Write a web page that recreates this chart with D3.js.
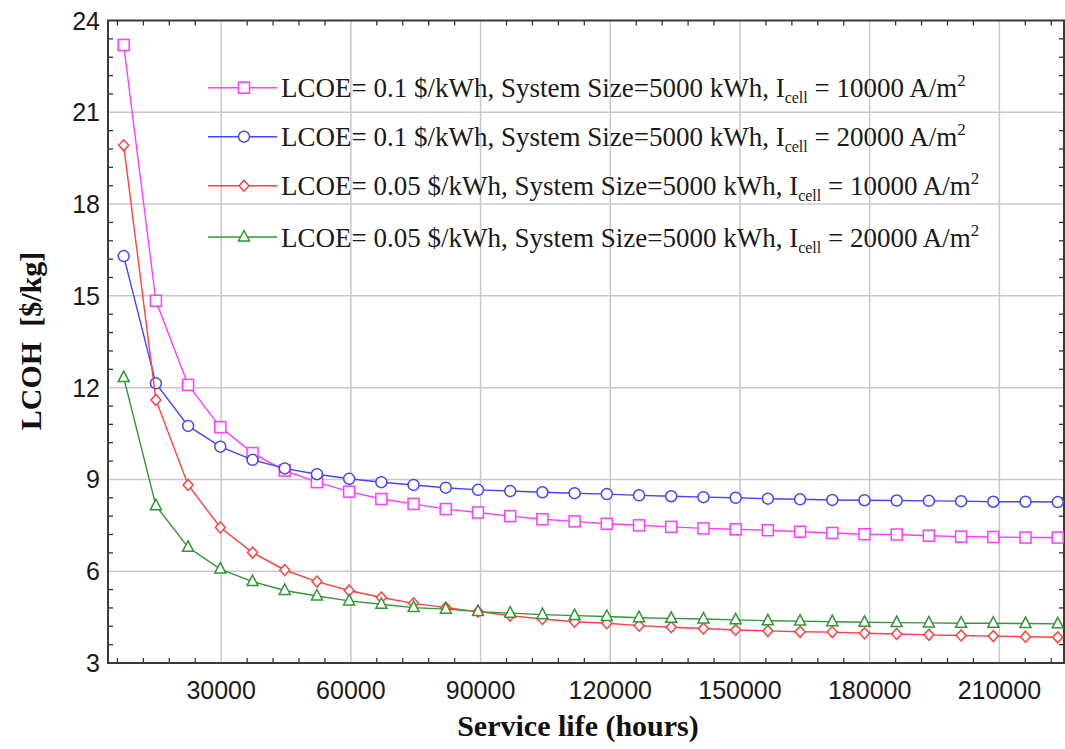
<!DOCTYPE html>
<html><head><meta charset="utf-8">
<script src="https://cdn.jsdelivr.net/npm/d3@7"></script>
<style>body{margin:0;background:#fff}svg{display:block}</style>
</head><body>
<svg id="chart" width="1065" height="749"></svg>
<script>
const serviceLife = [7450,14900,22350,29800,37250,44700,52150,59600,67050,74500,81950,89400,96850,104300,111750,119200,126650,134100,141550,149000,156450,163900,171350,178800,186250,193700,201150,208600,216050,223500];
const lcohA = [23.2,14.84,12.09,10.71,9.86,9.29,8.91,8.60,8.36,8.20,8.03,7.92,7.80,7.70,7.63,7.55,7.50,7.45,7.40,7.37,7.34,7.29,7.25,7.21,7.20,7.16,7.13,7.12,7.10,7.10];
const lcohB = [16.30,12.14,10.75,10.07,9.64,9.36,9.17,9.02,8.91,8.82,8.73,8.66,8.62,8.58,8.55,8.52,8.48,8.45,8.42,8.40,8.37,8.35,8.33,8.32,8.31,8.30,8.29,8.27,8.27,8.26];
const lcohC = [19.92,11.60,8.82,7.43,6.61,6.04,5.66,5.37,5.14,4.95,4.81,4.68,4.55,4.44,4.35,4.30,4.22,4.17,4.13,4.08,4.05,4.02,4.01,3.97,3.95,3.92,3.90,3.88,3.86,3.84];
const lcohD = [12.33,8.14,6.78,6.07,5.66,5.37,5.19,5.03,4.92,4.81,4.76,4.68,4.63,4.58,4.55,4.52,4.48,4.46,4.44,4.41,4.38,4.37,4.35,4.33,4.32,4.31,4.30,4.30,4.29,4.28];
const lcoeLabels = ["0.1","0.1","0.05","0.05"];
const icellLabels = ["10000","20000","10000","20000"];
const xTicks = [30000,60000,90000,120000,150000,180000,210000];
const yTicks = [3,6,9,12,15,18,21,24];
const xTitle = "Service life (hours)";
const yTitle = "LCOH  [$/kg]";

const series = [
  {values: lcohA, color: "#ff3cff", marker: "square"},
  {values: lcohB, color: "#4545ff", marker: "circle"},
  {values: lcohC, color: "#ff4040", marker: "diamond"},
  {values: lcohD, color: "#329632", marker: "triangle"}
];

const L = 108, R = 1064, T = 20.5, B = 663;
const x = d3.scaleLinear().domain([3820, 224950]).range([L, R]);
const y = d3.scaleLinear().domain([3, 24]).range([B, T]);
const svg = d3.select("#chart");

// grid
svg.append("g").selectAll("line").data(xTicks).join("line")
  .attr("x1", d => x(d)).attr("x2", d => x(d)).attr("y1", T).attr("y2", B)
  .attr("stroke", "#c8c8c8").attr("stroke-width", 1.5);
svg.append("g").selectAll("line").data(yTicks.filter(v => v > 3 && v < 24)).join("line")
  .attr("y1", d => y(d)).attr("y2", d => y(d)).attr("x1", L).attr("x2", R)
  .attr("stroke", "#c8c8c8").attr("stroke-width", 1.5);

// minor ticks (inward, all sides)
const xMinor = d3.range(6000, 224000, 6000).filter(v => v % 30000 !== 0 && v > x.domain()[0]);
const yMinor = d3.range(36, 240, 6).map(v => v / 10).filter(v => Math.abs(v % 3) > 1e-6);
const tk = svg.append("g").attr("stroke", "#333").attr("stroke-width", 1.3);
xMinor.forEach(v => {
  tk.append("line").attr("x1", x(v)).attr("x2", x(v)).attr("y1", B).attr("y2", B - 5);
  tk.append("line").attr("x1", x(v)).attr("x2", x(v)).attr("y1", T).attr("y2", T + 5);
});
yMinor.forEach(v => {
  tk.append("line").attr("y1", y(v)).attr("y2", y(v)).attr("x1", L).attr("x2", L + 5);
  tk.append("line").attr("y1", y(v)).attr("y2", y(v)).attr("x1", R).attr("x2", R - 5);
});

// frame
svg.append("rect").attr("x", L).attr("y", T).attr("width", R - L).attr("height", B - T)
  .attr("fill", "none").attr("stroke", "#3a3a3a").attr("stroke-width", 2);

// tick labels
svg.append("g").selectAll("text").data(yTicks).join("text")
  .attr("x", L - 8).attr("y", d => y(d)).attr("dy", "0.36em")
  .attr("text-anchor", "end").attr("font-family", "Liberation Sans, Arial, sans-serif")
  .attr("font-size", 25).attr("fill", "#1a1a1a").text(d => d);
svg.append("g").selectAll("text").data(xTicks).join("text")
  .attr("x", d => x(d)).attr("y", 699)
  .attr("text-anchor", "middle").attr("font-family", "Liberation Sans, Arial, sans-serif")
  .attr("font-size", 25).attr("fill", "#1a1a1a").text(d => d);

// titles
svg.append("text").attr("x", 578).attr("y", 736).attr("text-anchor", "middle")
  .attr("font-family", "Liberation Serif, Times New Roman, serif").attr("font-weight", "bold")
  .attr("font-size", 30).attr("fill", "#111").text(xTitle);
svg.append("text").attr("transform", "translate(41,341) rotate(-90)").attr("text-anchor", "middle")
  .attr("font-family", "Liberation Serif, Times New Roman, serif").attr("font-weight", "bold")
  .attr("font-size", 30).attr("fill", "#111").style("white-space", "pre").text(yTitle);

// markers
function drawMarker(g, type, cx, cy, color) {
  if (type === "square") {
    g.append("rect").attr("x", cx - 5.5).attr("y", cy - 5.5).attr("width", 11).attr("height", 11)
      .attr("fill", "#fff").attr("stroke", color).attr("stroke-width", 1.5);
  } else if (type === "circle") {
    g.append("circle").attr("cx", cx).attr("cy", cy).attr("r", 5.5)
      .attr("fill", "#fff").attr("stroke", color).attr("stroke-width", 1.5);
  } else if (type === "diamond") {
    g.append("path").attr("d", `M${cx},${cy - 5.5}L${cx + 5},${cy}L${cx},${cy + 5.5}L${cx - 5},${cy}Z`)
      .attr("fill", "#fff").attr("stroke", color).attr("stroke-width", 1.5);
  } else {
    g.append("path").attr("d", `M${cx},${cy - 6.5}L${cx + 5.5},${cy + 4}L${cx - 5.5},${cy + 4}Z`)
      .attr("fill", "#fff").attr("stroke", color).attr("stroke-width", 1.5);
  }
}

const line = d3.line().x((d, i) => x(serviceLife[i])).y(d => y(d));
series.forEach(s => {
  const g = svg.append("g");
  g.append("path").attr("d", line(s.values)).attr("fill", "none")
    .attr("stroke", s.color).attr("stroke-width", 1.4);
  s.values.forEach((v, i) => drawMarker(g, s.marker, x(serviceLife[i]), y(v), s.color));
});

// legend
const legY = [87.7, 136.7, 185.7, 237];
series.forEach((s, k) => {
  const g = svg.append("g");
  g.append("line").attr("x1", 208).attr("x2", 277).attr("y1", legY[k]).attr("y2", legY[k])
    .attr("stroke", s.color).attr("stroke-width", 1.4);
  drawMarker(g, s.marker, 244, legY[k], s.color);
  const t = g.append("text").attr("x", 281).attr("y", legY[k] + 9.5)
    .attr("font-family", "Liberation Serif, Times New Roman, serif").attr("font-size", 27).attr("fill", "#1a1a1a");
  t.append("tspan").text(`LCOE= ${lcoeLabels[k]} $/kWh, System Size=5000 kWh, I`);
  t.append("tspan").attr("font-size", 16).attr("dy", 6).text("cell");
  t.append("tspan").attr("dy", -6).text(` = ${icellLabels[k]} A/m`);
  t.append("tspan").attr("font-size", 17).attr("dy", -11).text("2");
});
</script>
</body></html>
